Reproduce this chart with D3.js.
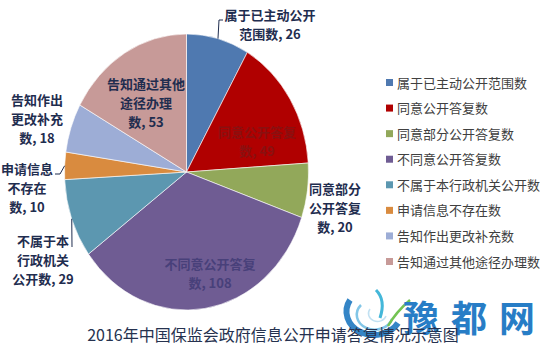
<!DOCTYPE html>
<html><head><meta charset="utf-8">
<script src="https://cdn.jsdelivr.net/npm/d3@7/dist/d3.min.js"></script>
<style>
html,body{margin:0;padding:0;background:#fff;}
svg{display:block;font-family:"Noto Sans CJK SC","Noto Sans",sans-serif;}
</style></head>
<body>
<svg id="chart" width="551" height="360"></svg>
<script>
const categories = ["属于已主动公开范围数","同意公开答复数","同意部分公开答复数","不同意公开答复数","不属于本行政机关公开数","申请信息不存在数","告知作出更改补充数","告知通过其他途径办理数"];
const values = [26, 49, 20, 108, 29, 10, 18, 53];
const colors = ["#4F79B0","#B00000","#92A85A","#6F5C93","#5C97B0","#D98B3F","#9DADD6","#C79A98"];
const labelLines = [["属于已主动公开","范围数, 26"],["同意公开答复","数, 49"],["同意部分","公开答复","数, 20"],["不同意公开答复","数, 108"],["不属于本","行政机关","公开数, 29"],["申请信息","不存在","数, 10"],["告知作出","更改补充","数, 18"],["告知通过其他","途径办理","数, 53"]];
const title = "2016年中国保监会政府信息公开申请答复情况示意图";

// layout
const cx = 186.5, cy = 172, rx = 122, ry = 138;
const labelPos = [[270,20],[257,137],[335,194],[210,269],[43,246],[27,174],[37,105],[146,89]];
const labelColor = ["#1F2D4F","#8A1010","#1F2D4F","#48407A","#1F2D4F","#1F2D4F","#1F2D4F","#1F2D4F"];
const leaders = {0:[[223,20],[219,20]], 5:[[55,174],[60,174]], 4:[[72,247]]};

const svg = d3.select("#chart");

// watermark
const wm = svg.append("g").attr("opacity",0.95);
wm.append("path").attr("d","M350,300 A27,23 0 1 0 398,323").attr("fill","none").attr("stroke","#2A7FC4").attr("stroke-width",6);
wm.append("path").attr("d","M361,305 A18,15 0 1 0 392,319").attr("fill","none").attr("stroke","#7CC3E6").attr("stroke-width",2.5);
wm.append("path").attr("d","M370,309 A9,8 0 1 0 386,316").attr("fill","none").attr("stroke","#BFE0F2").attr("stroke-width",1.5);
wm.append("path").attr("d","M376,290 Q386,300 380,318").attr("fill","none").attr("stroke","#3AB4D8").attr("stroke-width",3);
wm.append("path").attr("d","M388,326 Q396,312 410,300").attr("fill","none").attr("stroke","#6CC04A").attr("stroke-width",2.5);
wm.append("text").attr("x",403).attr("y",332).attr("font-size",36).attr("font-weight","bold")
  .attr("fill","#1C77C3").attr("letter-spacing",12).text("豫都网");

// pie
const pie = d3.pie().sort(null).value(d=>d)(values);
const arc = d3.arc().innerRadius(0).outerRadius(rx);
const g = svg.append("g").attr("transform",`translate(${cx},${cy}) scale(1,${ry/rx})`);
g.selectAll("path").data(pie).join("path")
  .attr("d",arc).attr("fill",(d,i)=>colors[i])
  .attr("stroke","#ffffff").attr("stroke-width",0.6).attr("vector-effect","non-scaling-stroke");

// leader lines
pie.forEach((d,i)=>{
  if(!leaders[i]) return;
  const a = (d.startAngle+d.endAngle)/2;
  const end = [cx+rx*Math.sin(a), cy-ry*Math.cos(a)];
  const pts = leaders[i].concat([end]);
  svg.append("path").attr("d",d3.line()(pts)).attr("fill","none").attr("stroke","#1F2D4F").attr("stroke-width",1);
});

// labels
labelLines.forEach((lines,i)=>{
  const t = svg.append("text").attr("x",labelPos[i][0]).attr("y",labelPos[i][1])
    .attr("text-anchor","middle").attr("font-size",13).attr("font-weight","bold").attr("fill",labelColor[i]);
  lines.forEach((l,j)=>t.append("tspan").attr("x",labelPos[i][0]).attr("dy",j?19:0).text(l));
});

// legend
const ly = d3.scalePoint().domain(d3.range(categories.length)).range([83,262]);
const lg = svg.append("g");
categories.forEach((c,i)=>{
  lg.append("rect").attr("x",386).attr("y",ly(i)-4).attr("width",7).attr("height",7).attr("fill",colors[i]);
  lg.append("text").attr("x",397).attr("y",ly(i)+4.5).attr("font-size",13).attr("fill","#404040").text(c);
});

// title
svg.append("text").attr("x",273).attr("y",341).attr("text-anchor","middle").attr("font-size",16)
  .attr("fill","#26324F").text(title);
</script>
</body></html>
